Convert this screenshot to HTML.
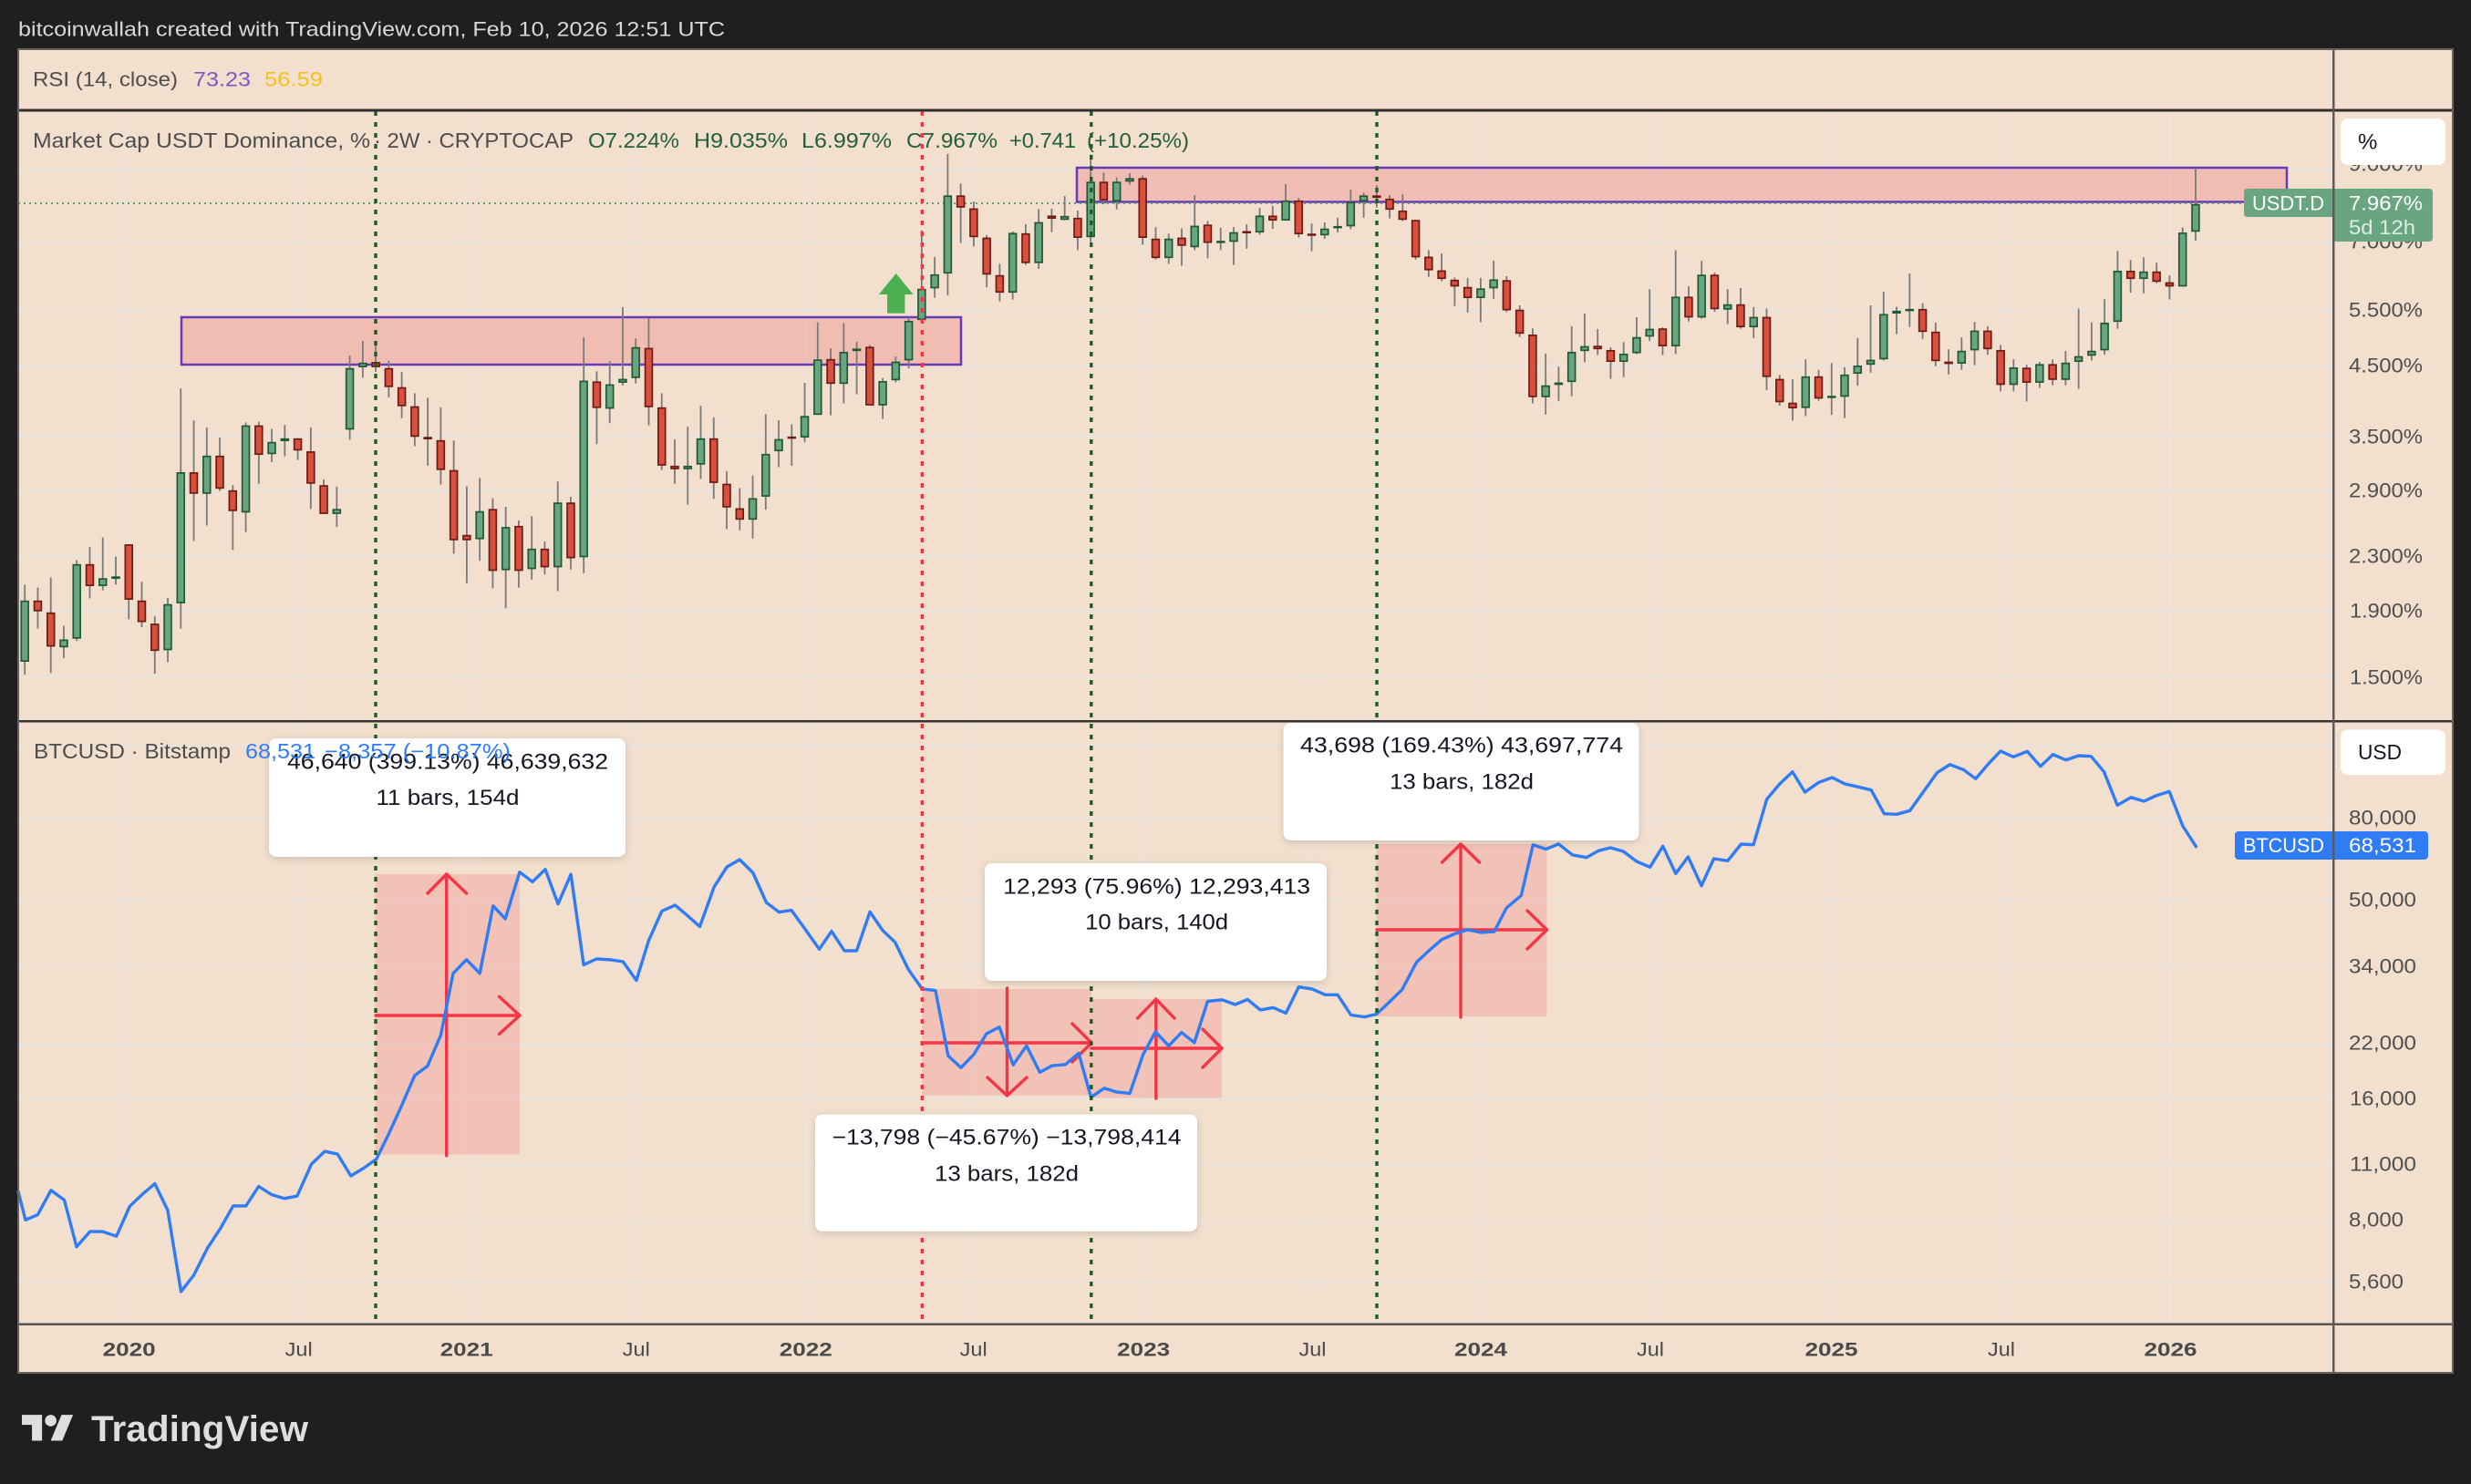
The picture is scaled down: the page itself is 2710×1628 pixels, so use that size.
<!DOCTYPE html>
<html><head><meta charset="utf-8"><style>
html,body{margin:0;padding:0;background:#1f1f1f;width:2710px;height:1628px;overflow:hidden}
svg{display:block}
text{font-family:"Liberation Sans",Arial,sans-serif}
</style></head><body>
<svg id="c" xmlns="http://www.w3.org/2000/svg" width="2710" height="1628" viewBox="0 0 2710 1628">
<defs>
<filter id="sh" x="-10%" y="-10%" width="120%" height="130%"><feDropShadow dx="0" dy="2" stdDeviation="4" flood-color="#000" flood-opacity="0.16"/></filter>
</defs>
<rect width="2710" height="1628" fill="#1f1f1f"/>
<text x="20" y="32" font-size="22" fill="#d8d8d8" dominant-baseline="central" textLength="775" lengthAdjust="spacingAndGlyphs">bitcoinwallah created with TradingView.com, Feb 10, 2026 12:51 UTC</text>
<rect x="20" y="54" width="2670" height="1452" fill="#f2dfce"/>
<g stroke="#e9e3de" stroke-width="2">
<line x1="20" x2="2558" y1="186" y2="186"/><line x1="20" x2="2558" y1="264.5" y2="264.5"/><line x1="20" x2="2558" y1="340" y2="340"/><line x1="20" x2="2558" y1="401" y2="401"/><line x1="20" x2="2558" y1="479" y2="479"/><line x1="20" x2="2558" y1="538" y2="538"/><line x1="20" x2="2558" y1="610" y2="610"/><line x1="20" x2="2558" y1="670" y2="670"/><line x1="20" x2="2558" y1="743.5" y2="743.5"/>
<line x1="20" x2="2558" y1="818" y2="818"/><line x1="20" x2="2558" y1="898.5" y2="898.5"/><line x1="20" x2="2558" y1="988" y2="988"/><line x1="20" x2="2558" y1="1061" y2="1061"/><line x1="20" x2="2558" y1="1145" y2="1145"/><line x1="20" x2="2558" y1="1205.5" y2="1205.5"/><line x1="20" x2="2558" y1="1277.5" y2="1277.5"/><line x1="20" x2="2558" y1="1339" y2="1339"/><line x1="20" x2="2558" y1="1407.5" y2="1407.5"/>
<g id="vg"></g>
</g>
<rect x="199" y="348" width="855" height="52" fill="rgba(242,54,69,0.2)" stroke="#673ab7" stroke-width="2.5"/>
<rect x="1181" y="184" width="1327" height="37.5" fill="rgba(242,54,69,0.2)" stroke="#673ab7" stroke-width="2.5"/>
<line x1="20" y1="223" x2="2461" y2="223" stroke="#5f9c78" stroke-width="2" stroke-dasharray="2 4"/>
<g id="candles"></g>
<polygon points="982.7,300 1001.6,323 992.4,323 992.4,343.6 973,343.6 973,323 963.8,323" fill="#4caf50"/>
<g fill="rgba(242,54,69,0.17)">
<rect x="411.7" y="959" width="158.3" height="307.5"/>
<rect x="1011.3" y="1085" width="185.7" height="116.5"/>
<rect x="1197" y="1096" width="143" height="108.5"/>
<rect x="1509.6" y="926" width="186.9" height="189"/>
</g>
<g stroke="#f23645" stroke-width="3.4" fill="none" stroke-linecap="round" stroke-linejoin="round">
<path d="M412 1114H570M547.5 1093.4L570 1114L547.5 1134.4M489.7 1267.8V959M469 980L489.7 959L511.6 980"/>
<path d="M1011 1144H1197M1176 1123L1197 1144L1176 1165M1104.5 1084V1202M1083 1182L1104.5 1202L1126 1182"/>
<path d="M1197 1150H1340M1319 1129L1340 1150L1319 1171M1267.8 1205V1096M1247.6 1117L1267.8 1096L1288 1117"/>
<path d="M1510 1020H1696.5M1675 999L1696.5 1020L1675 1041M1602 1116V926M1581.5 946L1602 926L1622.5 946"/>
</g>
<polyline id="btc" fill="none" stroke="#2f7cf6" stroke-width="3.4" stroke-linejoin="round" stroke-linecap="round" points=""/>
<g stroke-width="3.4" stroke-dasharray="5 7">
<line x1="412" y1="122" x2="412" y2="1451" stroke="#1b5e20"/>
<line x1="1011.3" y1="122" x2="1011.3" y2="1451" stroke="#f23645"/>
<line x1="1196.8" y1="122" x2="1196.8" y2="1451" stroke="#1b5e20"/>
<line x1="1510" y1="122" x2="1510" y2="1451" stroke="#1b5e20"/>
</g>
<g fill="#ffffff" filter="url(#sh)">
<rect x="295" y="810" width="391" height="130" rx="8"/>
<rect x="1080" y="947" width="375" height="129" rx="8"/>
<rect x="894" y="1222.5" width="419" height="128.5" rx="8"/>
<rect x="1407.5" y="793" width="390" height="129" rx="8"/>
</g>
<g font-size="24" fill="#131722" text-anchor="middle" dominant-baseline="central">
<text x="491" y="836" textLength="352" lengthAdjust="spacingAndGlyphs">46,640 (399.13%) 46,639,632</text>
<text x="491" y="875.5" textLength="157" lengthAdjust="spacingAndGlyphs">11 bars, 154d</text>
<text x="1268.6" y="973" textLength="337" lengthAdjust="spacingAndGlyphs">12,293 (75.96%) 12,293,413</text>
<text x="1268.6" y="1012" textLength="157" lengthAdjust="spacingAndGlyphs">10 bars, 140d</text>
<text x="1104" y="1248" textLength="383" lengthAdjust="spacingAndGlyphs">−13,798 (−45.67%) −13,798,414</text>
<text x="1104" y="1288" textLength="158" lengthAdjust="spacingAndGlyphs">13 bars, 182d</text>
<text x="1603" y="818" textLength="354" lengthAdjust="spacingAndGlyphs">43,698 (169.43%) 43,697,774</text>
<text x="1603" y="858" textLength="158" lengthAdjust="spacingAndGlyphs">13 bars, 182d</text>
</g>
<g font-size="22" dominant-baseline="central">
<text x="36" y="87" fill="#4d4d4d" textLength="159" lengthAdjust="spacingAndGlyphs">RSI (14, close)</text>
<text x="212" y="87" fill="#7e57c2" textLength="63" lengthAdjust="spacingAndGlyphs">73.23</text>
<text x="290" y="87" fill="#f5c21b" textLength="64" lengthAdjust="spacingAndGlyphs">56.59</text>
</g>
<g font-size="23" dominant-baseline="central">
<text x="36" y="154" fill="#4d4d4d" textLength="370" lengthAdjust="spacingAndGlyphs">Market Cap USDT Dominance, %</text>
<text x="410" y="154" fill="#4d4d4d" textLength="219" lengthAdjust="spacingAndGlyphs">· 2W · CRYPTOCAP</text>
<text x="645" y="154" fill="#22603a" textLength="100" lengthAdjust="spacingAndGlyphs">O7.224%</text>
<text x="761" y="154" fill="#22603a" textLength="103" lengthAdjust="spacingAndGlyphs">H9.035%</text>
<text x="879" y="154" fill="#22603a" textLength="99" lengthAdjust="spacingAndGlyphs">L6.997%</text>
<text x="994" y="154" fill="#22603a" textLength="100" lengthAdjust="spacingAndGlyphs">C7.967%</text>
<text x="1107" y="154" fill="#22603a" textLength="73" lengthAdjust="spacingAndGlyphs">+0.741</text>
<text x="1192" y="154" fill="#22603a" textLength="112" lengthAdjust="spacingAndGlyphs">(+10.25%)</text>
<text x="37" y="824" fill="#4d4d4d" textLength="216" lengthAdjust="spacingAndGlyphs">BTCUSD · Bitstamp</text>
<text x="269" y="824" fill="#2f7cf6" textLength="77" lengthAdjust="spacingAndGlyphs">68,531</text>
<text x="356" y="824" fill="#2f7cf6" textLength="204" lengthAdjust="spacingAndGlyphs">−8,357 (−10.87%)</text>
</g>
<g font-size="22" fill="#4f4f4f" dominant-baseline="central">
<text x="2576" y="180" textLength="81" lengthAdjust="spacingAndGlyphs">9.000%</text>
<text x="2576" y="265" textLength="81" lengthAdjust="spacingAndGlyphs">7.000%</text>
<text x="2576" y="340" textLength="81" lengthAdjust="spacingAndGlyphs">5.500%</text>
<text x="2576" y="401" textLength="81" lengthAdjust="spacingAndGlyphs">4.500%</text>
<text x="2576" y="479" textLength="81" lengthAdjust="spacingAndGlyphs">3.500%</text>
<text x="2576" y="538" textLength="81" lengthAdjust="spacingAndGlyphs">2.900%</text>
<text x="2576" y="610" textLength="81" lengthAdjust="spacingAndGlyphs">2.300%</text>
<text x="2577" y="670" textLength="80" lengthAdjust="spacingAndGlyphs">1.900%</text>
<text x="2577" y="743" textLength="80" lengthAdjust="spacingAndGlyphs">1.500%</text>
<text x="2576" y="897" textLength="74" lengthAdjust="spacingAndGlyphs">80,000</text>
<text x="2576" y="987" textLength="74" lengthAdjust="spacingAndGlyphs">50,000</text>
<text x="2576" y="1060" textLength="74" lengthAdjust="spacingAndGlyphs">34,000</text>
<text x="2576" y="1144" textLength="74" lengthAdjust="spacingAndGlyphs">22,000</text>
<text x="2577" y="1205" textLength="73" lengthAdjust="spacingAndGlyphs">16,000</text>
<text x="2577" y="1277" textLength="73" lengthAdjust="spacingAndGlyphs">11,000</text>
<text x="2576" y="1338" textLength="60" lengthAdjust="spacingAndGlyphs">8,000</text>
<text x="2576" y="1406" textLength="60" lengthAdjust="spacingAndGlyphs">5,600</text>
</g>
<rect x="2567" y="130" width="115" height="51" rx="8" fill="#ffffff"/>
<text x="2586" y="156" font-size="24" fill="#131722" dominant-baseline="central">%</text>
<rect x="2567" y="800.5" width="115" height="49.5" rx="8" fill="#ffffff"/>
<text x="2586" y="825" font-size="23" fill="#131722" dominant-baseline="central" textLength="48" lengthAdjust="spacingAndGlyphs">USD</text>
<path d="M2465 207H2664Q2668 207 2668 211V261Q2668 265 2664 265H2563Q2559 265 2559 261V238H2465Q2461 238 2461 234V211Q2461 207 2465 207Z" fill="#6aa581"/>
<g font-size="22" dominant-baseline="central">
<text x="2470" y="223" fill="#ffffff" textLength="79" lengthAdjust="spacingAndGlyphs">USDT.D</text>
<text x="2576" y="223" fill="#ffffff" textLength="81" lengthAdjust="spacingAndGlyphs">7.967%</text>
<text x="2576" y="249.5" fill="#dcefe3" textLength="73" lengthAdjust="spacingAndGlyphs">5d 12h</text>
</g>
<rect x="2451" y="912" width="212" height="31" rx="4" fill="#2f7cf6"/>
<g font-size="22" fill="#ffffff" dominant-baseline="central">
<text x="2460" y="927.5" textLength="89" lengthAdjust="spacingAndGlyphs">BTCUSD</text>
<text x="2576" y="927.5" textLength="74" lengthAdjust="spacingAndGlyphs">68,531</text>
</g>
<rect x="20" y="119.5" width="2670" height="3" fill="#2f2f2f"/>
<rect x="20" y="790" width="2670" height="2.5" fill="#333333"/>
<rect x="20" y="1451.5" width="2670" height="2.5" fill="#555555"/>
<rect x="2558" y="54" width="2.5" height="1452" fill="#5b5b5b"/>
<rect x="20" y="54" width="2670" height="1452" fill="none" stroke="#6a6560" stroke-width="2"/>
<g font-size="21" fill="#4a4a4a" text-anchor="middle" dominant-baseline="central">
<text x="141.6" y="1481" font-weight="bold" textLength="58" lengthAdjust="spacingAndGlyphs">2020</text>
<text x="327.7" y="1481" textLength="30" lengthAdjust="spacingAndGlyphs">Jul</text>
<text x="511.6" y="1481" font-weight="bold" textLength="58" lengthAdjust="spacingAndGlyphs">2021</text>
<text x="697.8" y="1481" textLength="30" lengthAdjust="spacingAndGlyphs">Jul</text>
<text x="883.8" y="1481" font-weight="bold" textLength="58" lengthAdjust="spacingAndGlyphs">2022</text>
<text x="1067.7" y="1481" textLength="30" lengthAdjust="spacingAndGlyphs">Jul</text>
<text x="1254.2" y="1481" font-weight="bold" textLength="58" lengthAdjust="spacingAndGlyphs">2023</text>
<text x="1439.5" y="1481" textLength="30" lengthAdjust="spacingAndGlyphs">Jul</text>
<text x="1624" y="1481" font-weight="bold" textLength="58" lengthAdjust="spacingAndGlyphs">2024</text>
<text x="1810" y="1481" textLength="30" lengthAdjust="spacingAndGlyphs">Jul</text>
<text x="2008.5" y="1481" font-weight="bold" textLength="58" lengthAdjust="spacingAndGlyphs">2025</text>
<text x="2195" y="1481" textLength="30" lengthAdjust="spacingAndGlyphs">Jul</text>
<text x="2380.5" y="1481" font-weight="bold" textLength="58" lengthAdjust="spacingAndGlyphs">2026</text>
</g>
<g transform="translate(24,1545.8) scale(1.58)" fill="#dedede">
<path d="M14 22H7V11H0V4h14v18zM28 22h-8l7.5-18h8L28 22z"/><circle cx="20" cy="8" r="4"/>
</g>
<text x="100" y="1581" font-size="40" font-weight="bold" fill="#dedede" textLength="238" lengthAdjust="spacingAndGlyphs">TradingView</text>
</svg>
<script>
(function(){
var NS='http://www.w3.org/2000/svg';
function el(t,a,p){var e=document.createElementNS(NS,t);for(var k in a)e.setAttribute(k,a[k]);p.appendChild(e);return e;}
var vg=document.getElementById('vg');
[141.6,327.7,511.6,697.8,883.8,1067.7,1254.2,1439.5,1624,1810,2008.5,2195,2380.5].forEach(function(x){
 el('line',{x1:x,x2:x,y1:122,y2:1451},vg);
});
var C=[
[1,1312,1482,1268,1518],[0,1312,1342,1276,1390],[0,1345,1440,1248,1513],[1,1420,1442,1382,1472],[1,1211,1418,1200,1424],[0,1211,1272,1163,1306],[1,1250,1272,1137,1284],[1,1245,1252,1190,1268],[0,1156,1310,1156,1364],[0,1312,1372,1260,1386],
[0,1376,1452,1355,1515],[1,1322,1450,1305,1483],[1,956,1320,724,1390],[0,956,1016,812,1147],[1,910,1016,832,1104],[0,910,1002,860,1008],[0,1006,1064,992,1172],[1,826,1068,818,1122],[0,826,908,816,988],[1,872,906,836,928],
[1,862,870,825,912],[0,862,896,862,922],[0,898,988,832,1058],[0,992,1072,976,1072],[1,1058,1072,996,1108],[1,667,838,632,866],[1,652,665,592,694],[0,650,665,600,678],[0,667,720,647,748],[0,720,773,678,806],
[0,773,858,737,884],[0,858,865,750,938],[0,867,950,776,990],[0,950,1145,868,1182],[0,1130,1145,995,1264],[1,1064,1142,972,1202],[0,1058,1230,1028,1278],[1,1108,1228,1052,1333],[0,1105,1230,1090,1276],[1,1168,1225,1078,1254],
[0,1168,1220,1148,1240],[1,1040,1220,982,1286],[0,1040,1195,1024,1226],[1,702,1192,582,1236],[0,704,778,676,878],[1,712,780,648,820],
[1,697,708,498,715],[1,609,695,585,710],[0,611,776,528,826],[0,776,938,737,950],[0,938,948,865,988],[1,938,948,830,1046],[1,862,935,772,975],[0,862,986,804,1030],[0,988,1054,953,1114],[0,1056,1088,1000,1117],
[1,1028,1088,965,1140],[1,905,1024,795,1060],[1,864,898,812,942],[0,857,861,823,938],[1,800,860,708,873],[1,643,797,540,797],[0,642,711,612,798],[1,622,711,542,765],[1,613,620,594,740],[0,608,771,603,771],
[1,703,771,695,808],[1,649,701,635,707],[1,536,646,527,668],[1,447,534,285,536],[1,407,446,359,472],[1,188,405,73,465],[0,188,222,155,320],[0,224,304,205,330],[0,305,408,298,443],[0,409,458,378,482],
[1,292,458,288,477],[0,293,376,268,381],[1,262,376,226,392],[0,244,253,225,290],[1,245,256,190,257],[0,250,306,230,340],[1,150,304,75,318],[0,150,202,125,213],[1,150,205,138,227],[1,140,150,126,158],
[0,140,306,133,325],[0,308,362,276,366],[1,308,362,294,378],[0,305,328,280,383],[1,272,332,187,340],[0,269,320,259,362],
[1,314,318,278,340],[1,290,317,276,381],[0,287,290,268,336],[1,244,291,223,297],[0,244,258,217,281],[1,202,258,157,258],[0,202,296,195,305],[0,294,297,266,343],[1,280,299,263,308],[1,273,276,250,291],
[1,206,274,172,282],[1,188,205,180,250],[0,188,195,160,222],[0,197,228,187,252],[0,230,256,185,259],[0,256,360,256,366],[0,358,396,340,414],[0,396,420,349,426],[0,422,441,416,495],[0,442,473,417,513],
[1,446,473,417,540],[1,421,446,369,475],[0,423,507,412,512],[0,505,572,493,581],[0,574,748,557,765],[1,715,748,627,796],[1,707,714,663,758],[1,622,706,551,745],[1,606,620,516,651],[0,605,615,559,631],
[0,617,650,610,697],[1,627,650,595,692],[1,581,626,526,628],[1,558,580,448,592],[0,557,607,554,631],[1,469,607,340,628],[0,469,527,440,538],[1,408,527,370,530],[0,408,504,402,511],[1,490,505,448,545],
[0,490,554,445,558],[1,525,554,498,584],[0,525,692,502,728],[0,697,762,686,771],[0,763,779,698,813],
[1,690,778,643,800],[0,690,752,672,758],[1,744,747,653,797],[1,685,747,665,806],[1,660,683,584,716],[1,644,658,493,680],[1,517,643,455,646],[1,508,516,497,573],[1,503,506,405,553],[0,503,567,487,586],
[0,566,648,541,662],[0,649,656,615,685],[1,619,655,582,672],[1,563,618,539,659],[0,563,615,551,630],[0,617,714,603,732],[1,665,714,643,732],[0,666,708,658,760],[1,656,708,650,722],[0,656,700,643,715],
[1,652,700,620,715],[1,634,650,502,725],[1,619,633,540,646],[1,541,618,476,630],[1,397,539,342,558],[0,397,420,367,458],[1,399,420,360,460],[0,399,428,375,432],[0,429,441,410,477],[1,291,441,277,441],
[1,212,289,112,314]
];
var g=document.getElementById('candles');
function Y(v){return 140+v/2.529;}
C.forEach(function(d,i){
 var x=27.2+i*14.256;
 var bt=Y(d[1]),bb=Y(d[2]),wt=Y(d[3]),wb=Y(d[4]);
 el('line',{x1:x,x2:x,y1:wt,y2:wb,stroke:'#7a7a7a','stroke-width':1.8},g);
 var h=Math.max(bb-bt-1.7,0.8);
 el('rect',{x:x-3.9,y:bt+0.85,width:7.8,height:h,fill:d[0]?'#6aa581':'#d9503f',stroke:d[0]?'#1f5a35':'#6e1b14','stroke-width':1.7},g);
});
var P8=[[0,1210],[14,1283],[38,1270],[64,1207],[90,1232],[114,1352],[140,1313],[165,1313],[192,1325],[218,1248],[242,1218],[267,1190],[292,1258],[318,1467],[343,1425],[370,1355],[395,1305],[420,1247],[445,1247],[470,1197],[495,1218],[520,1228],[545,1222],[573,1140],[599,1107],[624,1114],[650,1170],[675,1150],[700,1127],[722,1068],[748,993],[775,912],[800,888],[826,808],[850,650],[876,615],[902,650],[928,477],[952,510],[980,390],[1005,415],[1030,383],[1055,472],[1080,396],[1105,628],[1130,613],[1156,615],[1182,620],[1208,668],[1232,566],[1258,490],[1284,475],[1308,502],[1332,530],[1360,428],[1385,377],[1410,358],[1436,392],[1462,468],[1487,493],[1511,488],[1537,535]];
var P9=[[33,588],[57,542],[82,592],[106,592],[132,492],[157,540],[181,570],[207,640],[234,690],[260,694],[285,862],[310,892],[335,858],[360,805],[385,788],[412,885],[438,836],[464,904],[488,887],[514,884],[540,855],[564,968],[590,945],[615,955],[640,958],[666,858],[690,800],[716,836],[741,802],[766,828],[792,722],[820,718],[846,730],[870,717],[895,744],[920,738],[945,752],[970,685],[996,690],[1022,705],[1046,705],[1072,757],[1098,762],[1122,755],[1146,725],[1172,692],[1200,622],[1226,590],[1250,563],[1276,548],[1300,538],[1326,545],[1352,543],[1376,482],[1405,450],[1428,320],[1453,331],[1478,318],[1505,346]];
var P10=[[0,452],[25,430],[50,420],[77,432],[105,465],[133,484],[160,415],[187,505],[213,450],[241,545],[267,456],[296,463],[324,408],[350,410],[378,260],[405,210],[432,170],[458,237],[487,205],[515,189],[542,210],[570,220],[597,230],[624,308],[650,310],[678,298],[706,237],[735,173],[762,146],[790,163],[816,193],[842,145],[868,102],[895,121],[924,103],[952,152],[978,113],[1005,131],[1032,117],[1058,119],[1085,170],[1113,280],[1142,254],[1169,267],[1195,248],[1222,235],[1250,348],[1278,416]];
var pts=[];
P8.forEach(function(p){pts.push((20+p[0]/1.782).toFixed(1)+','+(790+p[1]/2.34).toFixed(1));});
P9.forEach(function(p){pts.push((880+p[0]/1.782).toFixed(1)+','+(790+p[1]/2.34).toFixed(1));});
P10.forEach(function(p){pts.push((1740+p[0]/1.912).toFixed(1)+','+(790+p[1]/3).toFixed(1));});
document.getElementById('btc').setAttribute('points',pts.join(' '));
})();
</script>
</body></html>
